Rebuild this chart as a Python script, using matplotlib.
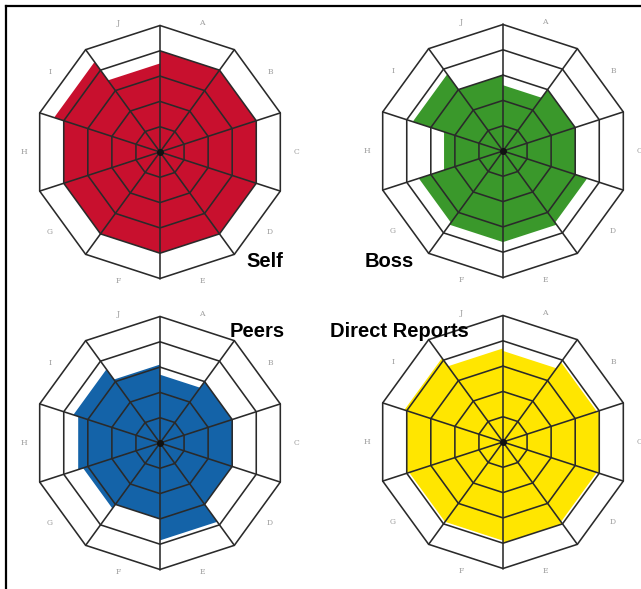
import numpy as np
import matplotlib
matplotlib.use("Agg")
import matplotlib.pyplot as plt
from matplotlib.patches import Polygon
from matplotlib.lines import Line2D

# Sector categories, clockwise starting just right of 12 o'clock
categories = ["A", "B", "C", "D", "E", "F", "G", "H", "I", "J"]
levels = [1, 2, 3, 4, 5]

# Ratings per rater group (scale 0-5), one value per sector
self_vals = [4.0, 4.0, 4.0, 4.0, 4.0, 4.0, 4.0, 4.0, 4.4, 3.5]
boss_vals = [2.6, 3.0, 3.0, 3.5, 3.6, 3.6, 3.5, 2.45, 3.75, 3.0]
peers_vals = [2.7, 3.0, 3.0, 3.0, 3.85, 3.0, 3.2, 3.4, 3.6, 3.1]
direct_vals = [3.6, 3.9, 4.0, 3.9, 4.0, 3.9, 3.9, 4.0, 4.1, 3.7]

groups = ["Self", "Boss", "Peers", "Direct Reports"]
group_vals = [self_vals, boss_vals, peers_vals, direct_vals]
group_colors = ["#c8102e", "#3a982b", "#1463a8", "#ffe600"]

W, H = 641, 589
fig = plt.figure(figsize=(W / 100, H / 100), dpi=100)
fig.patch.set_facecolor("white")

# chart centres (pixels from top-left) and pixels per rating unit
centers = [(160, 152), (503, 151), (160, 443), (503, 442)]
unit_px = 25.3
half = 150  # half-size of each chart's axes in pixels

n = len(categories)
spoke_ang = np.arange(n + 1) * 2 * np.pi / n  # clockwise from vertical


def pt(theta, r):
    return r * np.sin(theta), r * np.cos(theta)


line_kw = dict(color="#2a2a2a", lw=1.15, zorder=3, solid_capstyle="round")

for (cx, cy), vals, col in zip(centers, group_vals, group_colors):
    ax = fig.add_axes([(cx - half) / W, 1 - (cy + half) / H,
                       2 * half / W, 2 * half / H])
    lim = half / unit_px
    ax.set_xlim(-lim, lim)
    ax.set_ylim(-lim, lim)
    ax.set_aspect("equal")
    ax.axis("off")

    # stepped fill: each sector filled out to its own level
    verts = []
    for i, v in enumerate(vals):
        verts.append(pt(spoke_ang[i], v))
        verts.append(pt(spoke_ang[i + 1], v))
    ax.add_patch(Polygon(verts, closed=True, facecolor=col,
                         edgecolor="none", zorder=2))

    # decagonal rings
    for lv in levels:
        xs, ys = pt(spoke_ang, lv)
        ax.plot(xs, ys, **line_kw)

    # spokes
    for a in spoke_ang[:-1]:
        x1, y1 = pt(a, levels[-1])
        ax.plot([0, x1], [0, y1], **line_kw)

    ax.plot([0], [0], "o", color="#111111", ms=4, zorder=4)

    # sector letters
    mids = (spoke_ang[:-1] + spoke_ang[1:]) / 2
    for lab, m in zip(categories, mids):
        lx, ly = pt(m, 5.38)
        ax.text(lx, ly, lab, ha="center", va="center", fontsize=5.5,
                color="#9c9c9c", family="DejaVu Serif")

# group titles
title_pos = [(246, 267), (365, 267), (230, 337), (330, 337)]
for name, (tx, ty) in zip(groups, title_pos):
    fig.text(tx / W, 1 - ty / H, name, ha="left", va="baseline",
             fontsize=14.5, fontweight="bold", family="Liberation Sans",
             color="black", zorder=10)

# frame along the top and left edges
fig.add_artist(Line2D([6 / W, 1.0], [1 - 6 / H, 1 - 6 / H],
                      color="black", lw=1.6, transform=fig.transFigure))
fig.add_artist(Line2D([6 / W, 6 / W], [1 - 6 / H, 0.0],
                      color="black", lw=1.6, transform=fig.transFigure))

fig.savefig("out.png", dpi=100, facecolor="white")
